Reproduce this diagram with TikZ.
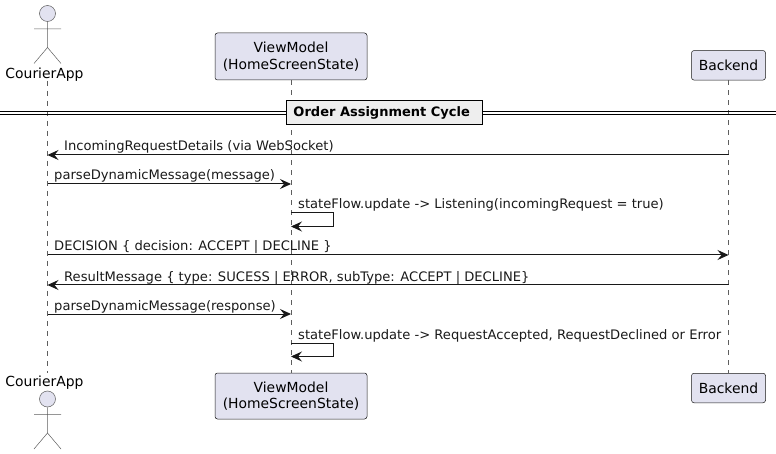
\documentclass[tikz,border=0pt]{standalone}
\usepackage{fontspec}
\setmainfont{DejaVu Sans}
\usetikzlibrary{arrows.meta}
\definecolor{partfill}{HTML}{E2E2F0}
\definecolor{partline}{HTML}{181818}
\definecolor{lifecol}{HTML}{5E5E5E}
\definecolor{divfill}{HTML}{EEEEEE}
\tikzset{
 x=1pt,y=-1pt,
 part/.style={draw=partline,fill=partfill,line width=0.5pt,rounded corners=2.5pt,align=center,font=\fontsize{13.9}{16.5}\selectfont,inner sep=0pt,minimum height=#1},
 part/.default=29.5pt,
 life/.style={draw=lifecol,line width=0.5pt,dash pattern=on 5pt off 5pt},
 msg/.style={draw=partline,line width=1pt,-{Stealth[length=11pt,width=10pt,inset=4pt]}},
 msgtext/.style={font=\fontsize{13.1}{15}\selectfont,anchor=base west,inner sep=0pt,text=black!90},
 actor/.style={draw=partline!70,line width=0.5pt},
 actname/.style={font=\fontsize{13.9}{16}\selectfont,inner sep=0pt,anchor=base},
}
\begin{document}
\begin{tikzpicture}
\useasboundingbox (0,0) rectangle (776,454);
% actor top
\node[actname] (appT) at (44.5,78.5) {CourierApp};
\node[actname] (appB) at (44.5,386.5) {CourierApp};
% boxes
\node[part=47pt,minimum width=152pt] (vmT) at (291,56.5) {ViewModel\\(HomeScreenState)};
\node[part=46pt,minimum width=152pt] (vmB) at (291,396) {ViewModel\\(HomeScreenState)};
\node[part,minimum width=74pt] (beT) at (728.5,65.3) {Backend};
\node[part,minimum width=74pt] (beB) at (728.5,388) {Backend};
% lifelines
\coordinate (appLT) at (47.5,81);
\coordinate (appLB) at (47.5,373);
\draw[life] (appLT) -- (appLB);
\draw[life] (vmT.south) -- (vmB.north);
\draw[life] (beT.south) -- (beB.north);
% divider
\coordinate (dl1) at (0,111.5); \coordinate (dr1) at (776,111.5);
\coordinate (dl2) at (0,114.5); \coordinate (dr2) at (776,114.5);
\draw[black,line width=1pt] (dl1) -- (dr1) (dl2) -- (dr2);
\node[draw=black,line width=1.5pt,fill=divfill,font=\fontsize{13}{15}\selectfont\bfseries,minimum width=196pt,minimum height=24pt,inner sep=0pt] (div) at (384.7,112.7) {\hspace*{-6pt}Order Assignment Cycle};
% actor figures
\foreach \yy/\nm in {13.5/T,399/B}{
 \node[draw=partline!70,fill=partfill,circle,minimum size=16pt,inner sep=0pt,line width=0.5pt] (head\nm) at (47.5,\yy) {};
 \coordinate (arml\nm) at (34,\yy+15.5);
 \coordinate (armr\nm) at (61,\yy+15.5);
 \coordinate (hip\nm) at (47.5,\yy+34);
 \coordinate (legl\nm) at (34,\yy+50);
 \coordinate (legr\nm) at (61,\yy+50);
 \draw[actor] (head\nm.south) -- (hip\nm) (arml\nm) -- (armr\nm) (legl\nm) -- (hip\nm) -- (legr\nm);
}
% message anchors
\foreach \n/\yy in {1/155,2/184,3/213,3b/226.5,4/255,5/285,6/314,7/343,7b/356.5}{
 \coordinate (a\n) at (47.5,\yy);
 \coordinate (v\n) at (291,\yy);
 \coordinate (b\n) at (728.5,\yy);
 \coordinate (s\n) at (333.5,\yy);
}
\draw[msg] (b1) -- (a1);
\node[msgtext] (t1) at (64,151) {IncomingRequestDetails (via WebSocket)};
\draw[msg] (a2) -- (v2);
\node[msgtext] (t2) at (54,180) {parseDynamicMessage(message)};
\draw[msg] (v3) -- (s3) -- (s3b) -- (v3b);
\node[msgtext] (t3) at (298,209) {stateFlow.update -> Listening(incomingRequest = true)};
\draw[msg] (a4) -- (b4);
\node[msgtext] (t4) at (54,251) {DECISION \{ decision: ACCEPT | DECLINE \}};
\draw[msg] (b5) -- (a5);
\node[msgtext] (t5) at (64,281) {ResultMessage \{ type: SUCESS | ERROR, subType: ACCEPT | DECLINE\}};
\draw[msg] (a6) -- (v6);
\node[msgtext] (t6) at (54,310) {parseDynamicMessage(response)};
\draw[msg] (v7) -- (s7) -- (s7b) -- (v7b);
\node[msgtext] (t7) at (298,339) {stateFlow.update -> RequestAccepted, RequestDeclined or Error};
\end{tikzpicture}
\end{document}
